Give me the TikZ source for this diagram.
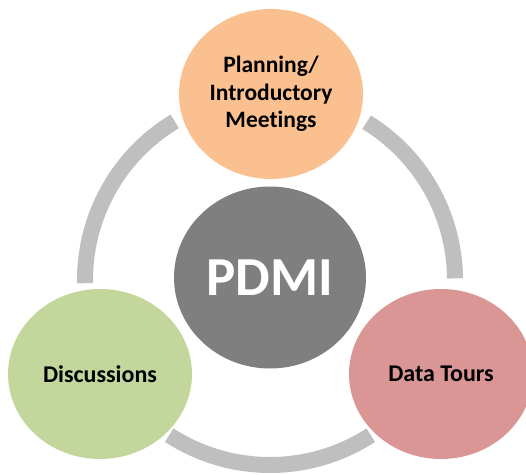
\documentclass[tikz,border=0pt]{standalone}
\usepackage{fontspec}
\setmainfont{Carlito}[Ligatures=NoCommon]
\usetikzlibrary{shapes.geometric}

\definecolor{ringgray}{HTML}{BFBFBF}
\definecolor{hubgray}{HTML}{7F7F7F}
\definecolor{planorange}{HTML}{FAC090}
\definecolor{discgreen}{HTML}{C3D69B}
\definecolor{tourred}{HTML}{D99694}

\begin{document}
\begin{tikzpicture}[x=1pt, y=1pt,
    stage/.style={ellipse, minimum width=184pt, minimum height=170pt,
      inner sep=0pt, align=center, font=\bfseries\fontsize{24}{29}\selectfont},
    ringarc/.style={draw=ringgray, line width=16pt}]
  % Canvas
  \useasboundingbox (0,0) rectangle (526,474);
  \clip (0,0) rectangle (526,474);

  % The ring behind the circles
  \coordinate (hubc) at (270,194);
  \draw[ringarc] (hubc) ++(0.5:185) arc (0.5:58.5:185);
  \draw[ringarc] (hubc) ++(121:185) arc (121:181:185);
  \draw[ringarc] (hubc) ++(237:185) arc (237:303:185);

  % Centre
  \node[ellipse, fill=hubgray, minimum width=192pt, minimum height=182pt,
    inner sep=0pt, text=white, font=\bfseries\fontsize{55}{60}\selectfont]
    (pdmi) at (270,196.5) {PDMI};

  % The three stages
  \node[stage, fill=planorange, font=\bfseries\fontsize{23.5}{27.5}\selectfont]
    (plan) at (271,380) {Planning/\\Introductory\\Meetings};
  \node[stage, fill=discgreen] (disc) at (100,100) {Discussions};
  \node[stage, fill=tourred] (tours) at (441,100) {Data Tours};
\end{tikzpicture}
\end{document}
